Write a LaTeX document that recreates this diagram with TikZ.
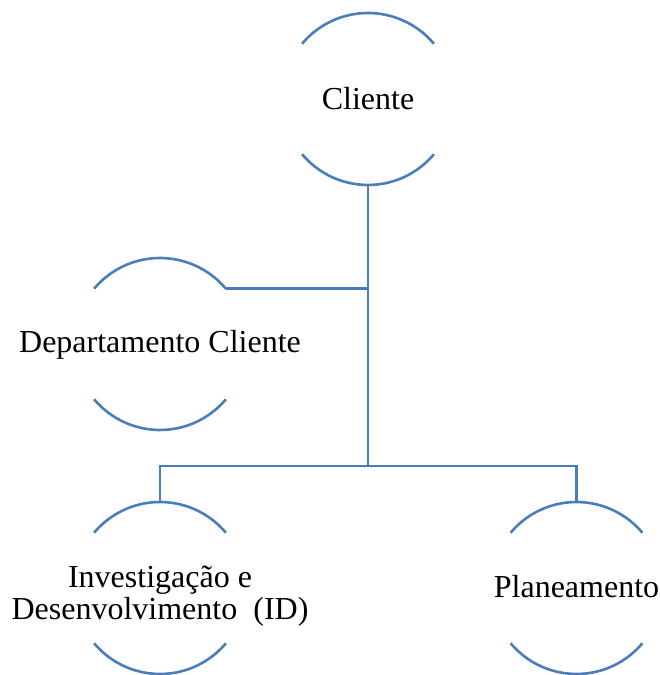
\documentclass[tikz,border=0pt]{standalone}
\usepackage{fontspec}
\setmainfont{Liberation Serif}
\usetikzlibrary{calc}

\definecolor{linkblue}{RGB}{74,126,187}

\tikzset{
  link/.style={draw=linkblue, line width=2.6pt},
  halfring/.style={draw=linkblue, line width=2.6pt, line cap=butt},
  lbl/.style={inner sep=0pt, anchor=base, text=black,
    font=\fontsize{32}{32}\selectfont}
}

% open ring: only the upper and lower arcs of a circle of radius 86pt
\newcommand{\openring}[1]{%
  \draw[halfring] ($(#1)+(40:86pt)$) arc[start angle=40, end angle=140, radius=86pt];
  \draw[halfring] ($(#1)+(220:86pt)$) arc[start angle=220, end angle=320, radius=86pt];
}

\begin{document}
\begin{tikzpicture}[x=1pt, y=1pt]
  \useasboundingbox (0,0) rectangle (660,675);

  % ring centres
  \coordinate (cl) at (368,576);
  \coordinate (dp) at (160,331);
  \coordinate (id) at (160,87);
  \coordinate (pl) at (576.5,87);

  % attachment points on the rings
  \coordinate (clB) at ($(cl)+(0,-86pt)$);
  \coordinate (dpE) at ($(dp)+(40:86pt)$);
  \coordinate (idT) at ($(id)+(0,86pt)$);
  \coordinate (plT) at ($(pl)+(0,86pt)$);
  \coordinate (jn)  at (368,209);

  \openring{cl}
  \openring{dp}
  \openring{id}
  \openring{pl}

  % labels
  \node[lbl] (tCliente) at (368,565.5) {Cliente};
  \node[lbl] (tDept) at (160,322) {Departamento Cliente};
  \node[lbl] (tId1) at (160,87) {Investigação e};
  \node[lbl] (tId2) at (160,55.5) {Desenvolvimento\ \ (ID)};
  \node[lbl] (tPlan) at (576.5,77) {Planeamento};

  % connectors
  \draw[link] (clB) -- (jn);
  \draw[link] (dpE) -- (dpE -| clB);
  \draw[link] (idT) |- (jn) -| (plT);
\end{tikzpicture}
\end{document}
